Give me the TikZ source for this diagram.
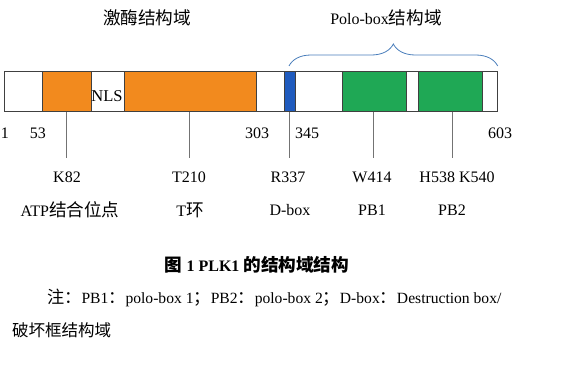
\documentclass[tikz,border=0pt]{standalone}
\usepackage{fontspec}
\setmainfont{Liberation Serif}
\newfontfamily\cjk[Scale=1.1]{Noto Sans CJK SC}
\usetikzlibrary{decorations.pathreplacing,positioning}
\definecolor{kinase}{HTML}{F28A1E}
\definecolor{pbox}{HTML}{1FA855}
\definecolor{dbox}{HTML}{1F5BBE}
\definecolor{bracecol}{HTML}{4A7EBB}
\tikzset{
  dombox/.style={draw=black!75, line width=0.7pt, minimum height=40pt, inner sep=0pt, anchor=south west},
  numlabel/.style={font=\fontsize{16}{18}\selectfont, inner sep=1pt},
  sitelabel/.style={font=\fontsize{16}{18}\selectfont, inner sep=1pt},
  siteline/.style={draw=black!55, line width=0.6pt},
  }

\begin{document}
\begin{tikzpicture}[x=1pt,y=-1pt]
    \useasboundingbox (0,0) rectangle (563,388);
    % Bar
    \node[dombox, fill=white, minimum width=493pt] (bar) at (4,112) {};
    \node[dombox, fill=kinase, minimum width=49pt]  (kd1) at (42,112) {};
    \node[dombox, fill=kinase, minimum width=132pt] (kd2) at (124,112) {};
    \node[dombox, fill=dbox, minimum width=11pt]    (db)  at (284,112) {};
    \node[dombox, fill=pbox, minimum width=64pt]    (pb1) at (342,112) {};
    \node[dombox, fill=pbox, minimum width=64pt]    (pb2) at (418,112) {};
    \node[font=\fontsize{16.5}{18}\selectfont, inner sep=0pt] (nls) at (107,96) {NLS};

    % Titles
    \node[font=\cjk\fontsize{16}{18}\selectfont] (kt) at (147,18) {激酶结构域};
    \node[font=\fontsize{16}{18}\selectfont] (pt) at (386,18) {Polo-box{\cjk 结构域}};

    % Brace
    \coordinate (br1) at (289,66);
    \coordinate (br2) at (bar.north east |- br1);
    \draw[bracecol, line width=0.8pt, decorate, decoration={brace, amplitude=22pt}] (br1) -- (br2);

    % Positions
    \node[numlabel] (p1)   at (5,133)   {1};
    \node[numlabel] (p53)  at (38,133)  {53};
    \node[numlabel] (p303) at (257,133) {303};
    \node[numlabel] (p345) at (307,133) {345};
    \node[numlabel] (p603) at (500,133) {603};

    % Sites
    \node[sitelabel] (k82)  at (67,177)  {K82};
    \node[sitelabel] (t210) at (189,177) {T210};
    \node[sitelabel] (r337) at (288,177) {R337};
    \node[sitelabel] (w414) at (372,177) {W414};
    \node[sitelabel] (h538) at (457,177) {H538 K540};

    \node[sitelabel] (atp) at (70,210)  {ATP{\cjk 结合位点}};
    \node[sitelabel] (tl)  at (190,210) {T{\cjk 环}};
    \node[sitelabel] (dl)  at (290,210) {D-box};
    \node[sitelabel] (b1l) at (372,210) {PB1};
    \node[sitelabel] (b2l) at (452,210) {PB2};

    % Ticks
    \draw[siteline] (bar.south -| 66,0)  -- ([yshift=12pt]k82.north -| 66,0);
    \draw[siteline] (bar.south -| 189,0) -- ([yshift=12pt]t210.north -| 189,0);
    \draw[siteline] (bar.south -| 289,0) -- ([yshift=12pt]r337.north -| 289,0);
    \draw[siteline] (bar.south -| 373,0) -- ([yshift=12pt]w414.north -| 373,0);
    \draw[siteline] (bar.south -| 452,0) -- ([yshift=12pt]h538.north -| 452,0);

    % Caption
    \node[font=\bfseries\fontsize{16}{18}\selectfont] (cap) at (257,265) {{\cjk 图} 1 PLK1 {\cjk 的结构域结构}};
    \node[anchor=west, font=\fontsize{15.6}{18}\selectfont, inner sep=0pt] (note) at (47,298)
        {{\cjk 注：}PB1{\cjk ：}polo-box 1{\cjk ；}PB2{\cjk ：}polo-box 2{\cjk ；}D-box{\cjk ：}Destruction box/};
    \node[anchor=west, font=\cjk\fontsize{15}{18}\selectfont, inner sep=0pt] (note2) at (12,330) {破坏框结构域};
\end{tikzpicture}
\end{document}
